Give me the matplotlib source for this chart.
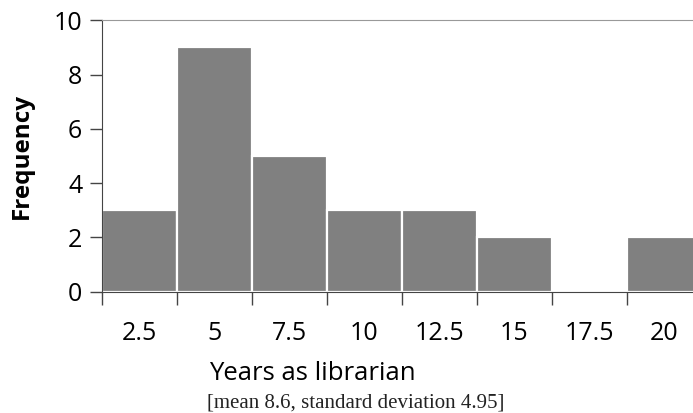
import matplotlib
matplotlib.use("Agg")
import matplotlib.pyplot as plt
import numpy as np

# histogram of years as librarian
bins = ["2.5", "5", "7.5", "10", "12.5", "15", "17.5", "20"]
freq = [3, 9, 5, 3, 3, 2, 0, 2]

plt.rcParams['font.family'] = ['Open Sans', 'DejaVu Sans']

fig = plt.figure(figsize=(6.93, 4.13), dpi=100)
ax = fig.add_axes([0.1468, 0.2937, 0.8658, 0.6571])

x = np.arange(len(bins))
ax.bar(x, freq, width=1.0, color='#808080', edgecolor='white', linewidth=1.6, zorder=2)

ax.set_xlim(-0.5, len(bins) - 0.5)
ax.set_ylim(0, 10)
ax.set_yticks(range(0, 11, 2))

# ticks at bin edges, labels at centres
ax.set_xticks(np.arange(len(bins) + 1) - 0.5)
ax.set_xticklabels([])
ax.set_xticks(x, minor=True)
ax.set_xticklabels(bins, minor=True)
ax.tick_params(axis='x', which='major', length=9, width=1, color='#444444', direction='out')
ax.tick_params(axis='x', which='minor', length=0, pad=21, labelsize=18)
ax.tick_params(axis='y', length=9, width=1, color='#444444', pad=5, labelsize=18)

ax.spines['right'].set_visible(False)
ax.spines['top'].set_color('#999999')
ax.spines['top'].set_linewidth(0.8)
ax.spines['left'].set_color('#444444')
ax.spines['bottom'].set_color('#444444')

ax.set_ylabel('Frequency', fontsize=17.5, fontweight='bold', labelpad=14)
fig.text(0.451, 0.080, 'Years as librarian', fontsize=18.5, ha='center', va='baseline')
fig.text(0.513, 0.014, '[mean 8.6, standard deviation 4.95]', fontsize=15,
         family='Liberation Serif', ha='center', va='baseline', color='#222222')

fig.savefig('out.png', dpi=100)
